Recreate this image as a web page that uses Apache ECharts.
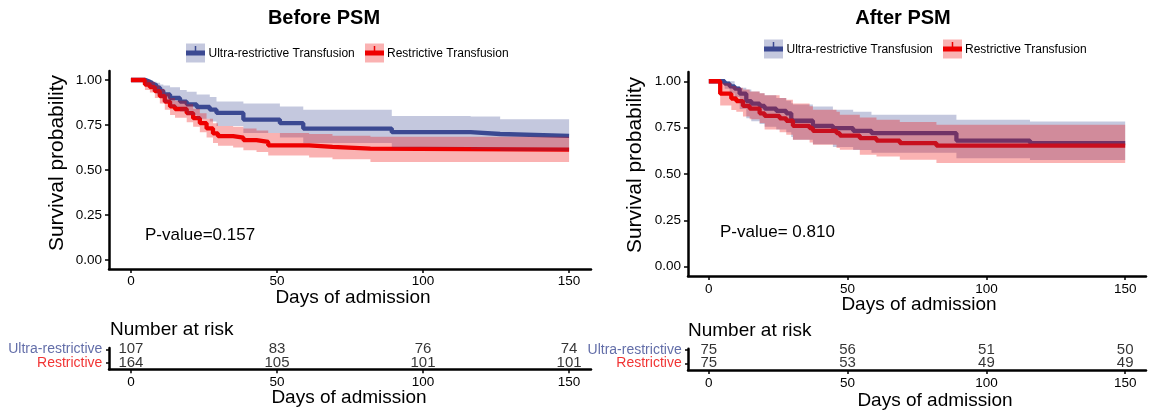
<!DOCTYPE html>
<html>
<head>
<meta charset="utf-8">
<script src="https://cdn.jsdelivr.net/npm/echarts@6/dist/echarts.min.js"></script>
<style>
  html, body { margin: 0; padding: 0; background: #fff; }
  #chart { width: 1155px; height: 412px; }
</style>
</head>
<body>
<div id="chart"></div>
<script>
// ---- data ----
const dayTicks = [0, 50, 100, 150]
const survTicks = [0, 0.25, 0.5, 0.75, 1]
const riskRows = [1, 2]
const riskRowNames = ['Restrictive', 'Ultra-restrictive']

// Before PSM, ultra-restrictive
const beforeUltraTime = [0, 5, 6.5, 7.5, 8.8, 10, 11.1, 13.4, 16.8, 19.1, 22.5, 27, 29.3, 38.5, 51, 59, 89.3, 116.3, 126.4, 150]
const beforeUltraSurv = [1, 0.99, 0.98, 0.97, 0.957, 0.94, 0.92, 0.9, 0.88, 0.865, 0.85, 0.835, 0.817, 0.78, 0.76, 0.73, 0.71, 0.70, 0.69, 0.69]
const beforeUltraUpper = [1, 1, 1, 0.99, 0.985, 0.975, 0.97, 0.96, 0.945, 0.935, 0.92, 0.905, 0.88, 0.87, 0.853, 0.835, 0.80, 0.797, 0.782, 0.782]
const beforeUltraLower = [1, 0.97, 0.955, 0.94, 0.92, 0.90, 0.875, 0.85, 0.825, 0.805, 0.785, 0.77, 0.745, 0.705, 0.68, 0.65, 0.625, 0.615, 0.605, 0.605]

// Before PSM, restrictive
const beforeRestrTime = [0, 4.8, 6.5, 8.2, 9.9, 11.6, 13.4, 15.1, 19.1, 21.3, 23.6, 25.9, 28.1, 29.8, 35, 38.5, 43, 47, 61, 69, 82, 150]
const beforeRestrSurv = [1, 0.975, 0.96, 0.938, 0.91, 0.88, 0.853, 0.839, 0.816, 0.788, 0.76, 0.731, 0.703, 0.688, 0.68, 0.666, 0.656, 0.637, 0.628, 0.619, 0.613, 0.613]
const beforeRestrUpper = [1, 1, 0.99, 0.97, 0.95, 0.925, 0.90, 0.885, 0.865, 0.84, 0.815, 0.785, 0.76, 0.745, 0.74, 0.73, 0.72, 0.705, 0.70, 0.69, 0.685, 0.685]
const beforeRestrLower = [1, 0.945, 0.93, 0.90, 0.87, 0.835, 0.805, 0.79, 0.765, 0.74, 0.71, 0.68, 0.65, 0.635, 0.625, 0.61, 0.60, 0.58, 0.57, 0.56, 0.545, 0.545]

// After PSM, ultra-restrictive
const afterUltraTime = [0, 5.7, 7.5, 9.3, 11.1, 13.5, 15.3, 18.3, 20.1, 24.3, 27.9, 29.7, 30.3, 37.5, 44.7, 52, 58.6, 89.2, 115.7, 150]
const afterUltraSurv = [1, 0.987, 0.973, 0.96, 0.933, 0.893, 0.88, 0.867, 0.853, 0.84, 0.827, 0.80, 0.787, 0.76, 0.747, 0.733, 0.72, 0.68, 0.667, 0.667]
const afterUltraUpper = [1, 1, 1, 0.972, 0.965, 0.955, 0.945, 0.935, 0.925, 0.91, 0.895, 0.882, 0.875, 0.864, 0.846, 0.835, 0.819, 0.792, 0.783, 0.783]
const afterUltraLower = [1, 0.96, 0.935, 0.915, 0.85, 0.80, 0.785, 0.77, 0.755, 0.74, 0.725, 0.70, 0.685, 0.66, 0.645, 0.63, 0.615, 0.585, 0.575, 0.575]

// After PSM, restrictive
const afterRestrTime = [0, 4.1, 8.1, 9.9, 12.3, 14.7, 18.3, 20.1, 25.5, 27.9, 30.3, 36.3, 37.5, 46, 47.2, 54.4, 60.4, 68.8, 82, 150]
const afterRestrSurv = [1, 0.933, 0.907, 0.893, 0.867, 0.853, 0.827, 0.813, 0.80, 0.787, 0.76, 0.747, 0.733, 0.72, 0.707, 0.693, 0.68, 0.667, 0.653, 0.653]
const afterRestrUpper = [1, 0.99, 0.975, 0.965, 0.955, 0.945, 0.936, 0.925, 0.91, 0.90, 0.88, 0.865, 0.846, 0.835, 0.819, 0.805, 0.792, 0.78, 0.765, 0.765]
const afterRestrLower = [1, 0.87, 0.845, 0.835, 0.81, 0.795, 0.775, 0.74, 0.725, 0.712, 0.685, 0.67, 0.658, 0.64, 0.631, 0.604, 0.595, 0.577, 0.559, 0.559]

// number at risk
const riskDays = [0, 50, 100, 150]
const beforeRiskUltra = [107, 83, 76, 74]
const beforeRiskRestr = [164, 105, 101, 101]
const afterRiskUltra = [75, 56, 51, 50]
const afterRiskRestr = [75, 53, 49, 49]

const BLUE = '#3B4992'
const RED = '#EE0000'
const BLUE_BAND = 'rgba(59,73,146,0.3)'
const RED_BAND = 'rgba(238,0,0,0.3)'
const FONT = "'Liberation Sans', Arial, sans-serif"

const chart = echarts.init(document.getElementById('chart'))

function stepLine (times, surv, color, idx) {
  return {
    type: 'line',
    xAxisIndex: idx,
    yAxisIndex: idx,
    step: 'end',
    symbol: 'none',
    silent: true,
    z: 2,
    lineStyle: { width: 4.3, color: color },
    data: times.map((t, i) => [t, surv[i]])
  }
}

function band (times, lower, upper, color, idx) {
  return {
    type: 'custom',
    xAxisIndex: idx,
    yAxisIndex: idx,
    silent: true,
    z: 3,
    data: times.map((t, i) => [t, lower[i], upper[i]]),
    encode: { x: 0, y: [1, 2] },
    renderItem: function (params, api) {
      if (params.dataIndex !== 0) return
      const pts = []
      for (let i = 0; i < times.length - 1; i++) {
        pts.push(api.coord([times[i], upper[i]]))
        pts.push(api.coord([times[i + 1], upper[i]]))
      }
      for (let i = times.length - 2; i >= 0; i--) {
        pts.push(api.coord([times[i + 1], lower[i]]))
        pts.push(api.coord([times[i], lower[i]]))
      }
      return { type: 'polygon', shape: { points: pts }, style: { fill: color } }
    }
  }
}

function riskNumbers (values, row, idx) {
  return {
    type: 'scatter',
    xAxisIndex: idx,
    yAxisIndex: idx,
    symbolSize: 1,
    silent: true,
    itemStyle: { color: 'transparent' },
    label: {
      show: true,
      position: 'inside',
      fontSize: 15,
      color: '#000',
      textBorderWidth: 0,
      fontFamily: FONT,
      formatter: p => p.value[2]
    },
    data: riskDays.map((d, i) => [d, row, values[i]])
  }
}

// row names of the risk table, put next to the axis through the scale
function riskNames (idx) {
  return {
    type: 'scatter',
    xAxisIndex: idx,
    yAxisIndex: idx,
    symbolSize: 1,
    silent: true,
    clip: false,
    itemStyle: { color: 'transparent' },
    label: {
      show: true,
      position: 'left',
      distance: 0,
      fontSize: 14,
      textBorderWidth: 0,
      fontFamily: FONT,
      formatter: p => riskRowNames[p.dataIndex]
    },
    data: riskRows.map((r, i) => ({
      value: [-9.6, r],
      label: { color: i === 1 ? BLUE : RED }
    }))
  }
}

const axisLine = { onZero: false, lineStyle: { color: '#000', width: 2.5 } }
const axisTick = { length: 4, lineStyle: { color: '#000', width: 1.5 } }

function dayAxis (idx, margin) {
  return {
    type: 'value',
    gridIndex: idx,
    min: -7.5,
    max: 157.5,
    splitLine: { show: false },
    axisLine: axisLine,
    axisTick: Object.assign({ customValues: dayTicks }, axisTick),
    axisLabel: { customValues: dayTicks, fontSize: 13.5, color: '#000', margin: margin, fontFamily: FONT }
  }
}

function survAxis (idx) {
  return {
    type: 'value',
    gridIndex: idx,
    min: -0.05,
    max: 1.05,
    splitLine: { show: false },
    axisLine: axisLine,
    axisTick: Object.assign({ customValues: survTicks }, axisTick),
    axisLabel: {
      customValues: survTicks,
      fontSize: 13.5,
      color: '#000',
      margin: 7,
      fontFamily: FONT,
      formatter: v => Number(v).toFixed(2)
    }
  }
}

function riskAxis (idx) {
  return {
    type: 'value',
    gridIndex: idx,
    min: 0.5,
    max: 2.1,
    splitLine: { show: false },
    axisLine: axisLine,
    axisTick: { customValues: riskRows, length: 3, lineStyle: { color: '#000', width: 1.5 } },
    axisLabel: { show: false }
  }
}

function text (x, y, str, size, extra) {
  return Object.assign({
    type: 'text',
    x: x,
    y: y,
    silent: true,
    style: {
      text: str,
      fill: '#000',
      font: size + 'px ' + FONT,
      textAlign: 'center',
      textVerticalAlign: 'middle'
    }
  }, extra || {})
}

function legendKey (x, y, line, fill) {
  return [
    { type: 'rect', silent: true, shape: { x: x, y: y - 9.5, width: 19, height: 19 }, style: { fill: fill } },
    { type: 'line', silent: true, shape: { x1: x, y1: y, x2: x + 19, y2: y }, style: { stroke: line, lineWidth: 5 } },
    { type: 'line', silent: true, shape: { x1: x + 9.5, y1: y - 7, x2: x + 9.5, y2: y }, style: { stroke: line, lineWidth: 1.5 } }
  ]
}

function leftText (x, y, str, size) {
  const t = text(x, y, str, size)
  t.style.textAlign = 'left'
  return t
}

const graphics = [
  text(324, 18, 'Before PSM', 20),
  text(903, 18, 'After PSM', 20),
  ...legendKey(186, 53, BLUE, BLUE_BAND),
  leftText(208.5, 53.5, 'Ultra-restrictive Transfusion', 12),
  ...legendKey(365, 53, RED, RED_BAND),
  leftText(387, 53.5, 'Restrictive Transfusion', 12),
  ...legendKey(764, 49, BLUE, BLUE_BAND),
  leftText(786.5, 49.5, 'Ultra-restrictive Transfusion', 12),
  ...legendKey(943, 49, RED, RED_BAND),
  leftText(965, 49.5, 'Restrictive Transfusion', 12),
  leftText(145, 235, 'P-value=0.157', 17),
  leftText(720, 232, 'P-value= 0.810', 17),
  text(57, 163, 'Survival probability', 21, { rotation: Math.PI / 2 }),
  text(635, 165, 'Survival probability', 21, { rotation: Math.PI / 2 }),
  text(353, 298, 'Days of admission', 19),
  text(919, 305, 'Days of admission', 19),
  leftText(110, 330, 'Number at risk', 19),
  leftText(688, 330.5, 'Number at risk', 19),
  text(349, 397.5, 'Days of admission', 19),
  text(935, 401, 'Days of admission', 19)
]
graphics[0].style.font = 'bold 20px ' + FONT
graphics[1].style.font = 'bold 20px ' + FONT

const option = {
  animation: false,
  backgroundColor: '#fff',
  textStyle: { fontFamily: FONT },
  grid: [
    { left: 109, top: 71, width: 482, height: 198 },
    { left: 688, top: 72, width: 458, height: 204 },
    { left: 109, top: 348, width: 482, height: 21.3 },
    { left: 688, top: 348.7, width: 458, height: 21.3 }
  ],
  xAxis: [dayAxis(0, 5), dayAxis(1, 6), dayAxis(2, 6), dayAxis(3, 6)],
  yAxis: [survAxis(0), survAxis(1), riskAxis(2), riskAxis(3)],
  graphic: graphics,
  series: [
    stepLine(beforeUltraTime, beforeUltraSurv, BLUE, 0),
    stepLine(beforeRestrTime, beforeRestrSurv, RED, 0),
    band(beforeUltraTime, beforeUltraLower, beforeUltraUpper, BLUE_BAND, 0),
    band(beforeRestrTime, beforeRestrLower, beforeRestrUpper, RED_BAND, 0),
    stepLine(afterUltraTime, afterUltraSurv, BLUE, 1),
    stepLine(afterRestrTime, afterRestrSurv, RED, 1),
    band(afterUltraTime, afterUltraLower, afterUltraUpper, BLUE_BAND, 1),
    band(afterRestrTime, afterRestrLower, afterRestrUpper, RED_BAND, 1),
    riskNumbers(beforeRiskUltra, 2, 2),
    riskNumbers(beforeRiskRestr, 1, 2),
    riskNumbers(afterRiskUltra, 2, 3),
    riskNumbers(afterRiskRestr, 1, 3),
    riskNames(2),
    riskNames(3)
  ]
}

chart.setOption(option)
window.addEventListener('resize', function () {
  chart.resize()
})
</script>
</body>
</html>
